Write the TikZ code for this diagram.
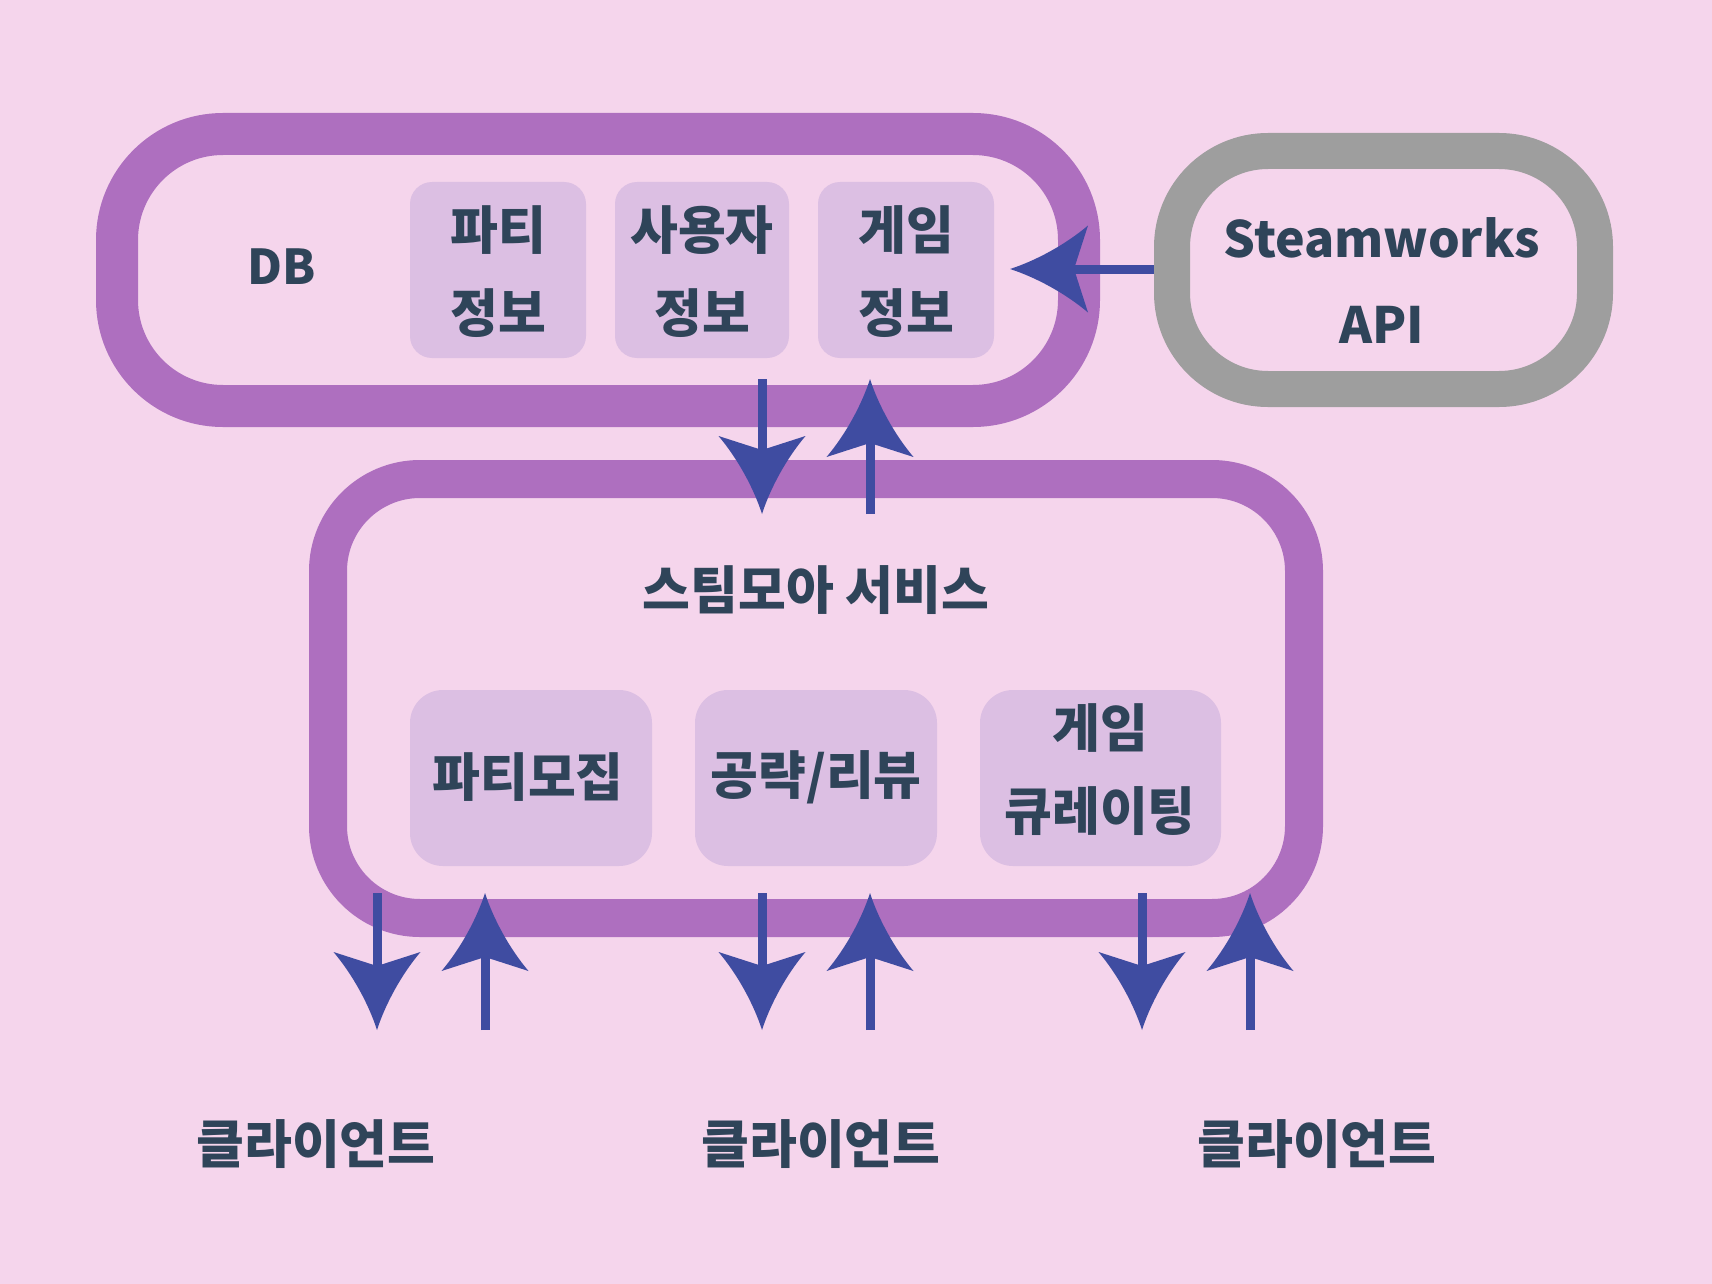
\documentclass[tikz,border=0pt]{standalone}
\usepackage{fontspec}
\setmainfont{Noto Sans CJK KR}[BoldFont={Noto Sans CJK KR Black}]
\usetikzlibrary{arrows.meta}
\definecolor{bgpink}{HTML}{F5D5EC}
\definecolor{boxpurple}{HTML}{AE6FBF}
\definecolor{boxgray}{HTML}{9E9E9E}
\definecolor{cellfill}{HTML}{DCBFE3}
\definecolor{txt}{HTML}{2F4459}
\definecolor{arr}{HTML}{3F4CA1}
\pgfdeclarearrow{
  name=CS,
  setup code={
    \pgfarrowssettipend{0pt}
    \pgfarrowssetlineend{-60pt}
    \pgfarrowssetbackend{-78pt}
    \pgfarrowshullpoint{0pt}{0pt}
    \pgfarrowshullpoint{-78pt}{43.5pt}
    \pgfarrowshullpoint{-78pt}{-43.5pt}
  },
  drawing code={
    \pgfpathmoveto{\pgfqpoint{0pt}{0pt}}
    \pgfpathcurveto{\pgfqpoint{-25pt}{8pt}}{\pgfqpoint{-55pt}{24pt}}{\pgfqpoint{-78pt}{43.5pt}}
    \pgfpathlineto{\pgfqpoint{-64pt}{0pt}}
    \pgfpathlineto{\pgfqpoint{-78pt}{-43.5pt}}
    \pgfpathcurveto{\pgfqpoint{-55pt}{-24pt}}{\pgfqpoint{-25pt}{-8pt}}{\pgfqpoint{0pt}{0pt}}
    \pgfpathclose
    \pgfusepathqfill
  }
}
\tikzset{
  cell/.style={fill=cellfill, rounded corners=#1, inner sep=0pt},
  lbl/.style={text=txt, font=\fontsize{52}{83}\selectfont\bfseries, align=center, inner sep=0pt},
  flow/.style={draw=arr, line width=9pt, -CS},
}
\begin{document}
\begin{tikzpicture}[x=1pt,y=-1pt]
\fill[bgpink] (0,0) rectangle (1712,1284);
\useasboundingbox (0,0) rectangle (1712,1284);
% big containers
\draw[draw=boxpurple, line width=42pt, rounded corners=106pt] (117,134) rectangle (1079,406);
\draw[draw=boxgray, line width=36pt, rounded corners=96pt] (1172,151) rectangle (1595,389);
\draw[draw=boxpurple, line width=38pt, rounded corners=92pt] (328,479) rectangle (1304,918);
% cells
\node[cell=22pt, minimum width=176pt, minimum height=176pt] (c1) at (498,270) {};
\node[cell=22pt, minimum width=174pt, minimum height=176pt] (c2) at (702,270) {};
\node[cell=22pt, minimum width=176pt, minimum height=176pt] (c3) at (906,270) {};
\node[cell=33pt, minimum width=242pt, minimum height=176pt] (s1) at (531,778) {};
\node[cell=33pt, minimum width=242pt, minimum height=176pt] (s2) at (816,778) {};
\node[cell=33pt, minimum width=241pt, minimum height=176pt] (s3) at (1100.5,778) {};
% labels
\node[lbl, font=\fontsize{48}{83}\selectfont\bfseries] (db) at (282,267) {DB};
\node[lbl] (t1) at (498,272) {파티\\정보};
\node[lbl] (t2) at (702,272) {사용자\\정보};
\node[lbl] (t3) at (906,272) {게임\\정보};
\node[lbl, font=\fontsize{50}{86}\selectfont\bfseries] (steam) at (1382,281) {Steamworks\\API};
\node[lbl] (svc) at (816,590) {스팀모아 서비스};
\node[lbl] (u1) at (528,777) {파티모집};
\node[lbl] (u2) at (816,777) {공략/리뷰};
\node[lbl] (u3) at (1100,770) {게임\\큐레이팅};
\node[lbl] (k1) at (316,1144) {클라이언트};
\node[lbl] (k2) at (821,1144) {클라이언트};
\node[lbl] (k3) at (1317,1144) {클라이언트};
% arrow end points
\coordinate (dbA) at (762,379);
\coordinate (svA) at (762,514);
\coordinate (dbB) at (870,379);
\coordinate (svB) at (870,514);
\coordinate (stS) at (1154,269);
\coordinate (dbS) at (1010,269);
\foreach \x/\n in {377/1,762/2,1142/3}{
  \coordinate (d\n t) at (\x,893);
  \coordinate (d\n b) at (\x,1030);
}
\foreach \x/\n in {485/1,870/2,1250/3}{
  \coordinate (u\n t) at (\x,893);
  \coordinate (u\n b) at (\x,1030);
}
% arrows
\draw[flow] (dbA) -- (svA);
\draw[flow] (svB) -- (dbB);
\draw[flow] (stS) -- (dbS);
\foreach \n in {1,2,3}{
  \draw[flow] (d\n t) -- (d\n b);
  \draw[flow] (u\n b) -- (u\n t);
}
\end{tikzpicture}
\end{document}
